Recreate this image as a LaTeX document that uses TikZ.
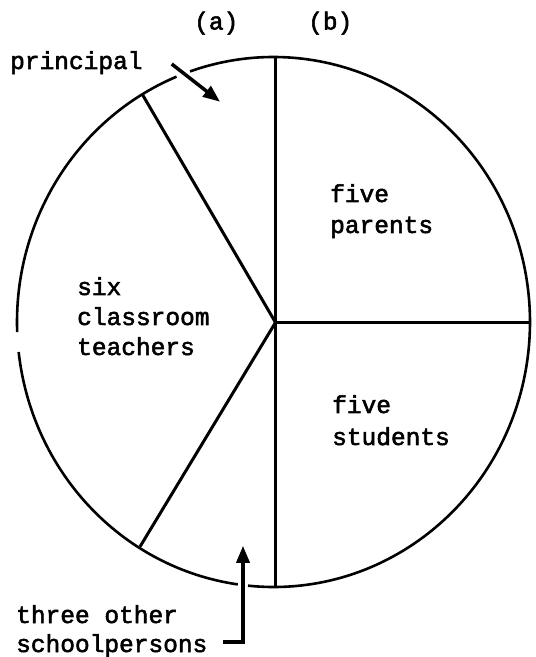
\documentclass[tikz,border=0pt]{standalone}
\usepackage{fontspec}
\setmonofont{Liberation Mono}[FakeBold=2.2]
\usetikzlibrary{arrows.meta,calc}
\begin{document}
\begin{tikzpicture}[x=1pt,y=1pt,
  lbl/.style={font=\ttfamily\fontsize{24.5}{26}\selectfont, anchor=base west, inner sep=0pt},
  rim/.style={line width=2.6pt},
  spoke/.style={line width=3pt},
  pointer/.style={line width=3.5pt, -{Triangle[length=17pt,width=13pt]}}]
\useasboundingbox (0,0) rectangle (536,657);
% centre of the outline and of the spokes
\coordinate (C) at (273.5,335);
\coordinate (V) at (275.5,334.5);
\coordinate (T) at (275.5,600);
\coordinate (B) at (275.5,70.3);
\coordinate (R) at (530,334.5);
\coordinate (UL) at (142.7,562);
\coordinate (LL) at (140,110.3);
% outline with its three breaks
\draw[rim] ($(C)+(112.2:256.5 and 265)$) arc[start angle=112.2, end angle=182.2, x radius=256.5, y radius=265];
\draw[rim] ($(C)+(186.5:256.5 and 265)$) arc[start angle=186.5, end angle=262.0, x radius=256.5, y radius=265];
\draw[rim] ($(C)+(264.3:256.5 and 265)$) arc[start angle=264.3, end angle=469.0, x radius=256.5, y radius=265];
% spokes
\draw[spoke] (T) -- (B);
\draw[spoke] (V) -- (R);
\draw[spoke] (V) -- (UL);
\draw[spoke] (V) -- (LL);
% labels
\node[lbl] (a) at (194,627.5) {(a)};
\node[lbl] (b) at (308,627.5) {(b)};
\node[lbl] (prin) at (10,588) {principal};
\node[lbl] (three) at (16,34) {three other};
\node[lbl] (school) at (16,5) {schoolpersons};
\node[lbl] (par1) at (330,455) {five};
\node[lbl] (par2) at (330,424) {parents};
\node[lbl] (tea1) at (77,362) {six};
\node[lbl] (tea2) at (77,332) {classroom};
\node[lbl] (tea3) at (77,302) {teachers};
\node[lbl] (stu1) at (332,244) {five};
\node[lbl] (stu2) at (332,212) {students};
% pointers
\coordinate (ps) at (171.7,593);
\coordinate (pe) at (220,555.3);
\draw[pointer] (ps) -- (pe);
\coordinate (qs) at (223,15);
\coordinate (qc) at (243,15);
\coordinate (qe) at (243,111.2);
\draw[pointer] (qs) -- (qc) -- (qe);
\end{tikzpicture}
\end{document}
